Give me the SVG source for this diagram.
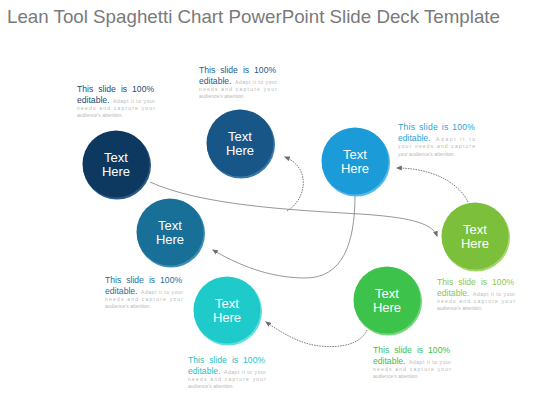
<svg xmlns="http://www.w3.org/2000/svg" width="560" height="420" viewBox="0 0 560 420">
<defs>
<style>
.title{font-family:"Liberation Sans",Arial,sans-serif;font-size:18.5px;fill:#7a7a7a}
.nt{font-family:"Liberation Sans",Arial,sans-serif;font-size:13px;fill:#ffffff;text-anchor:middle}
.hd{font-family:"Liberation Sans",Arial,sans-serif;font-size:8.6px;word-spacing:2.6px}
.sm{font-family:"Liberation Sans",Arial,sans-serif;font-size:5px;fill:#b8b8b8}
.solid{fill:none;stroke:#7c7c7c;stroke-width:0.8}
.dot{fill:none;stroke:#6e6e6e;stroke-width:0.9;stroke-dasharray:1.6 1}
</style>
<marker id="ah" viewBox="0 0 10 10" refX="8" refY="5" markerWidth="6" markerHeight="6" orient="auto-start-reverse" markerUnits="userSpaceOnUse">
<path d="M0,1 L10,5 L0,9 Z" fill="#6e6e6e"/>
</marker>
</defs>
<rect width="560" height="420" fill="#ffffff"/>
<text class="title" x="7" y="23" textLength="493" lengthAdjust="spacingAndGlyphs">Lean Tool Spaghetti Chart PowerPoint Slide Deck Template</text>

<g id="connectors">
<path class="solid" d="M150,182 C200,205 290,210 360,214 C405,217 432,222 437,236" marker-end="url(#ah)"/>
<path class="dot" d="M287,211 C306,200 312,168 285,157" marker-end="url(#ah)"/>
<path class="dot" d="M468,202 C456,178 425,168 397,168" marker-end="url(#ah)"/>
<path class="solid" d="M355,195 C355,245 342,278 305,278 C270,278 238,265 213,250" marker-end="url(#ah)"/>
<path class="dot" d="M367,330 C360,345 340,348 320,346 C300,344 282,333 266,322" marker-end="url(#ah)"/>
</g>

<g id="node1">
<circle cx="117" cy="165.5" r="34" fill="#2a5a85"/>
<circle cx="116" cy="164" r="33.5" fill="#0d3961"/>
<text class="nt" x="116" y="161.5">Text</text>
<text class="nt" x="116" y="176">Here</text>
</g>
<g id="node2">
<circle cx="241" cy="144.5" r="34" fill="#3a78a8"/>
<circle cx="240" cy="143" r="33.5" fill="#195688"/>
<text class="nt" x="240" y="140.5">Text</text>
<text class="nt" x="240" y="155">Here</text>
</g>
<g id="node3">
<circle cx="356" cy="162.5" r="34" fill="#55b8e6"/>
<circle cx="355" cy="161" r="33.5" fill="#1b9bd8"/>
<text class="nt" x="355" y="158.5">Text</text>
<text class="nt" x="355" y="173">Here</text>
</g>
<g id="node4">
<circle cx="171" cy="233.5" r="34" fill="#3f8db2"/>
<circle cx="170" cy="232" r="33.5" fill="#186f97"/>
<text class="nt" x="170" y="229.5">Text</text>
<text class="nt" x="170" y="244">Here</text>
</g>
<g id="node5">
<circle cx="476" cy="237.5" r="34" fill="#a3d56c"/>
<circle cx="475" cy="236" r="33.5" fill="#7cbf3a"/>
<text class="nt" x="475" y="233.5">Text</text>
<text class="nt" x="475" y="248">Here</text>
</g>
<g id="node6">
<circle cx="388" cy="301.5" r="34" fill="#72d67c"/>
<circle cx="387" cy="300" r="33.5" fill="#3dc24c"/>
<text class="nt" x="387" y="297.5">Text</text>
<text class="nt" x="387" y="312">Here</text>
</g>
<g id="node7">
<circle cx="228" cy="311.5" r="34" fill="#5fdede"/>
<circle cx="227" cy="310" r="33.5" fill="#1ecaca"/>
<text class="nt" x="227" y="307.5">Text</text>
<text class="nt" x="227" y="322">Here</text>
</g>

<g id="desc1">
<text class="hd" x="77" y="92" fill="#234d74">This slide is 100%</text>
<text class="hd" x="77" y="103" fill="#234d74">editable.</text>
<text class="sm" x="113" y="103" textLength="42" lengthAdjust="spacing">Adapt it to your</text>
<text class="sm" x="77" y="110" textLength="78" lengthAdjust="spacing">needs and capture your</text>
<text class="sm" x="77" y="117">audience's attention.</text>
</g>
<g id="desc2">
<text class="hd" x="199" y="73" fill="#1f5b8c">This slide is 100%</text>
<text class="hd" x="199" y="84" fill="#1f5b8c">editable.</text>
<text class="sm" x="235" y="84" textLength="42" lengthAdjust="spacing">Adapt it to your</text>
<text class="sm" x="199" y="91" textLength="78" lengthAdjust="spacing">needs and capture your</text>
<text class="sm" x="199" y="98">audience's attention.</text>
</g>
<g id="desc3">
<text class="hd" x="398" y="130" fill="#2aa2da" style="word-spacing:1px" textLength="77" lengthAdjust="spacing">This slide is 100%</text>
<text class="hd" x="398" y="141" fill="#2aa2da">editable.</text>
<text class="sm" x="436" y="141" textLength="39" lengthAdjust="spacing">Adapt it to</text>
<text class="sm" x="398" y="148" textLength="77" lengthAdjust="spacing">your needs and capture</text>
<text class="sm" x="398" y="156">your audience's attention.</text>
</g>
<g id="desc4">
<text class="hd" x="105" y="283" fill="#1e6f98">This slide is 100%</text>
<text class="hd" x="105" y="294" fill="#1e6f98">editable.</text>
<text class="sm" x="141" y="294" textLength="42" lengthAdjust="spacing">Adapt it to your</text>
<text class="sm" x="105" y="301" textLength="78" lengthAdjust="spacing">needs and capture your</text>
<text class="sm" x="105" y="308">audience's attention.</text>
</g>
<g id="desc5">
<text class="hd" x="437" y="285" fill="#8cc651">This slide is 100%</text>
<text class="hd" x="437" y="296" fill="#8cc651">editable.</text>
<text class="sm" x="473" y="296" textLength="42" lengthAdjust="spacing">Adapt it to your</text>
<text class="sm" x="437" y="303" textLength="78" lengthAdjust="spacing">needs and capture your</text>
<text class="sm" x="437" y="310">audience's attention.</text>
</g>
<g id="desc6">
<text class="hd" x="373" y="353" fill="#3dbe4d">This slide is 100%</text>
<text class="hd" x="373" y="364" fill="#3dbe4d">editable.</text>
<text class="sm" x="409" y="364" textLength="42" lengthAdjust="spacing">Adapt it to your</text>
<text class="sm" x="373" y="371" textLength="78" lengthAdjust="spacing">needs and capture your</text>
<text class="sm" x="373" y="378">audience's attention.</text>
</g>
<g id="desc7">
<text class="hd" x="188" y="363" fill="#22c3c6">This slide is 100%</text>
<text class="hd" x="188" y="374" fill="#22c3c6">editable.</text>
<text class="sm" x="224" y="374" textLength="42" lengthAdjust="spacing">Adapt it to your</text>
<text class="sm" x="188" y="381" textLength="78" lengthAdjust="spacing">needs and capture your</text>
<text class="sm" x="188" y="388">audience's attention.</text>
</g>
</svg>
